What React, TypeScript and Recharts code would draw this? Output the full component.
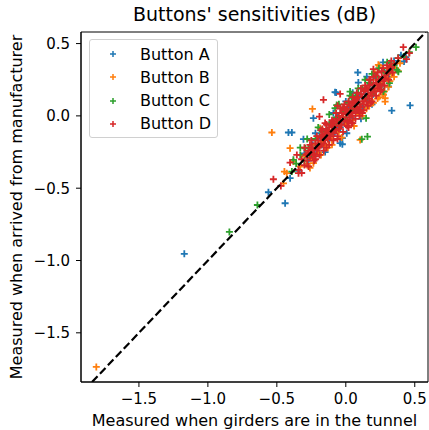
import {
  ScatterChart,
  Scatter,
  XAxis,
  YAxis,
  ReferenceArea,
  Legend,
} from "recharts";

// measured in tunnel (x) vs measured on arrival (y), dB
const buttonA: [number, number][] = [
  [-1.171, -0.954], [-0.561, -0.528], [-0.44, -0.604], [-0.416, -0.115],
  [-0.391, -0.115], [-0.307, -0.161], [-0.235, -0.016], [-0.07, 0.161],
  [0.091, 0.23], [0.087, 0.3], [0.466, 0.072], [0.333, 0.037],
  [0.422, 0.376], [0.435, 0.406], [-0.025, -0.196], [0.007, -0.12],
  [-0.025, -0.154], [-0.041, -0.189], [-0.404, -0.431], [0.309, 0.203],
  [0.152, 0.272], [-0.078, 0.164],
  [-0.3, -0.26], [-0.27, -0.31], [-0.24, -0.2], [-0.21, -0.25],
  [-0.19, -0.14], [-0.17, -0.2], [-0.14, -0.09], [-0.12, -0.16],
  [-0.1, -0.05], [-0.08, -0.12], [-0.06, -0.01], [-0.04, -0.08],
  [-0.02, 0.03], [0.0, -0.05], [0.02, 0.06], [0.04, -0.01],
  [0.06, 0.1], [0.08, 0.03], [0.1, 0.13], [0.12, 0.06],
  [0.14, 0.17], [0.16, 0.1], [0.18, 0.22], [0.2, 0.15],
  [0.22, 0.26], [0.25, 0.2], [0.28, 0.31], [0.31, 0.27],
  [0.35, 0.38], [0.4, 0.42],
  [-0.34, -0.38], [-0.22, -0.12], [-0.09, 0.02], [0.05, 0.16],
  [0.19, 0.08], [0.27, 0.37], [0.33, 0.33], [-0.15, -0.25],
  [0.0, 0.1], [0.11, -0.02],
];

const buttonB: [number, number][] = [
  [-1.809, -1.736], [-0.536, -0.115], [-0.404, -0.223], [-0.452, -0.466],
  [-0.445, -0.385], [-0.242, 0.048], [-0.13, -0.22], [-0.235, -0.327],
  [0.104, -0.166], [0.243, 0.346], [0.236, 0.353], [0.393, 0.364],
  [0.285, 0.122], [0.285, 0.099], [0.273, 0.145], [0.224, 0.249],
  [-0.186, -0.085], [-0.38, -0.316], [-0.428, -0.396], [-0.126, -0.2],
  [-0.33, -0.35], [-0.3, -0.28], [-0.28, -0.33], [-0.25, -0.29],
  [-0.22, -0.2], [-0.2, -0.26], [-0.17, -0.18], [-0.15, -0.21],
  [-0.12, -0.1], [-0.1, -0.16], [-0.07, -0.06], [-0.05, -0.11],
  [-0.02, -0.01], [0.0, -0.06], [0.03, 0.02], [0.05, -0.03],
  [0.08, 0.06], [0.1, 0.01], [0.13, 0.1], [0.15, 0.05],
  [0.18, 0.15], [0.2, 0.09], [0.22, 0.18], [0.24, 0.13],
  [0.26, 0.22], [0.28, 0.17], [0.3, 0.26], [0.33, 0.29],
  [0.36, 0.33], [0.21, 0.3], [0.31, 0.2],
  [0.12, 0.0], [0.17, 0.07], [0.23, 0.12], [0.27, 0.15],
  [0.32, 0.24], [0.35, 0.27], [0.06, -0.07], [-0.03, -0.15],
  [-0.1, -0.2], [-0.18, -0.27], [-0.26, -0.36], [0.38, 0.31], [0.3, 0.33],
];

const buttonC: [number, number][] = [
  [-0.844, -0.802], [-0.641, -0.616], [-0.391, -0.385], [0.157, -0.143],
  [0.116, -0.161], [0.509, 0.475], [0.321, 0.364], [0.381, 0.306],
  [0.316, 0.226], [0.031, 0.168], [0.043, 0.134], [-0.078, 0.053],
  [-0.066, 0.075], [0.176, 0.226], [0.273, 0.168], [0.37, 0.318],
  [-0.295, -0.224], [-0.38, -0.304], [0.147, -0.016],
  [-0.36, -0.33], [-0.33, -0.27], [-0.3, -0.31], [-0.27, -0.22],
  [-0.25, -0.26], [-0.22, -0.16], [-0.2, -0.21], [-0.17, -0.11],
  [-0.15, -0.16], [-0.12, -0.06], [-0.1, -0.11], [-0.07, -0.01],
  [-0.05, -0.06], [-0.02, 0.04], [0.0, -0.01], [0.02, 0.09],
  [0.05, 0.04], [0.07, 0.14], [0.1, 0.08], [0.12, 0.19],
  [0.15, 0.12], [0.17, 0.23], [0.2, 0.17], [0.22, 0.27],
  [0.25, 0.22], [0.28, 0.3], [0.32, 0.31], [0.35, 0.35],
  [0.42, 0.41], [0.46, 0.44],
  [-0.28, -0.16], [-0.2, -0.08], [-0.12, 0.01], [-0.05, 0.08],
  [0.03, 0.14], [0.09, 0.19], [0.14, 0.25], [0.19, 0.29],
  [0.24, 0.33], [0.3, 0.37], [-0.33, -0.22], [0.38, 0.4],
];

const buttonD: [number, number][] = [
  [-0.525, -0.438], [-0.471, -0.484], [-0.404, -0.323], [-0.343, -0.396],
  [-0.355, -0.27], [-0.162, 0.111], [-0.041, 0.152], [-0.191, -0.005],
  [0.417, 0.475], [0.461, 0.434], [0.44, 0.392], [0.2, 0.323],
  [-0.343, -0.373], [-0.32, -0.395], [-0.259, -0.27], [-0.247, -0.235],
  [-0.32, -0.3], [-0.3, -0.34], [-0.29, -0.27], [-0.28, -0.31],
  [-0.27, -0.24], [-0.26, -0.29], [-0.25, -0.22], [-0.24, -0.27],
  [-0.23, -0.26], [-0.22, -0.19], [-0.21, -0.24], [-0.2, -0.17],
  [-0.2, -0.22], [-0.19, -0.21], [-0.18, -0.15], [-0.18, -0.2],
  [-0.17, -0.13], [-0.16, -0.19], [-0.15, -0.12], [-0.15, -0.17],
  [-0.14, -0.1], [-0.13, -0.16], [-0.13, -0.11], [-0.12, -0.08],
  [-0.11, -0.14], [-0.11, -0.06], [-0.1, -0.1], [-0.09, -0.12],
  [-0.09, -0.04], [-0.08, -0.07], [-0.07, -0.1], [-0.07, -0.02],
  [-0.06, -0.05], [-0.05, -0.09], [-0.05, 0.0], [-0.04, -0.03],
  [-0.03, -0.06], [-0.03, 0.02], [-0.02, -0.01], [-0.01, -0.04],
  [-0.01, 0.04], [0.0, 0.01], [0.01, -0.03], [0.01, 0.05],
  [0.02, 0.02], [0.03, -0.01], [0.03, 0.07], [0.04, 0.03],
  [0.05, 0.0], [0.05, 0.09], [0.06, 0.05], [0.07, 0.02],
  [0.07, 0.11], [0.08, 0.06], [0.09, 0.04], [0.09, 0.13],
  [0.1, 0.08], [0.11, 0.06], [0.11, 0.15], [0.12, 0.1],
  [0.13, 0.08], [0.13, 0.17], [0.14, 0.12], [0.15, 0.1],
  [0.15, 0.19], [0.16, 0.14], [0.17, 0.12], [0.17, 0.21],
  [0.18, 0.16], [0.19, 0.14], [0.2, 0.19], [0.21, 0.17],
  [0.22, 0.23], [0.23, 0.19], [0.24, 0.25], [0.25, 0.22],
  [0.26, 0.27], [0.27, 0.24], [0.29, 0.28], [0.31, 0.3],
  [0.33, 0.33], [0.35, 0.36], [0.38, 0.4],
  [-0.06, 0.07], [0.02, -0.08], [0.12, 0.02], [-0.15, -0.05],
  [0.08, 0.16], [-0.22, -0.28], [0.18, 0.25], [0.26, 0.31], [0.05, -0.05],
  [-0.3, -0.22], [-0.27, -0.35], [-0.25, -0.17], [-0.23, -0.31],
  [-0.21, -0.14], [-0.19, -0.27], [-0.17, -0.09], [-0.16, -0.24],
  [-0.14, -0.06], [-0.12, -0.2], [-0.1, -0.03], [-0.09, -0.17],
  [-0.07, 0.02], [-0.06, -0.14], [-0.04, 0.05], [-0.02, -0.11],
  [-0.01, 0.08], [0.01, -0.07], [0.02, 0.1], [0.04, -0.05],
  [0.05, 0.13], [0.07, -0.02], [0.08, 0.12], [0.1, 0.0],
  [0.11, 0.19], [0.13, 0.04], [0.14, 0.21], [0.16, 0.07],
  [0.17, 0.25], [0.19, 0.1], [0.2, 0.27], [0.22, 0.14],
  [0.23, 0.3], [0.25, 0.17], [0.27, 0.33], [0.28, 0.21],
  [0.3, 0.35], [0.31, 0.25], [0.33, 0.38], [0.34, 0.3],
  [-0.28, -0.26], [-0.24, -0.23], [-0.2, -0.2], [-0.16, -0.15],
  [-0.12, -0.13], [-0.08, -0.09], [-0.04, -0.06], [0.0, 0.04],
  [0.04, 0.07], [0.08, 0.09], [0.12, 0.13], [0.16, 0.18],
  [0.2, 0.22], [0.24, 0.21], [0.28, 0.26], [0.32, 0.34],
  [-0.26, -0.2], [-0.22, -0.3], [-0.18, -0.1], [-0.14, -0.22],
  [-0.1, -0.06], [-0.06, -0.16], [-0.02, 0.06], [0.02, -0.04],
  [0.06, 0.1], [0.1, 0.03], [0.14, 0.18], [0.18, 0.09],
  [0.22, 0.28], [0.26, 0.18], [0.3, 0.3],
];

// y = x reference, ends at the axes limits
const identityEnds = [-1.84, 0.58];

const seriesNames = ["Button A", "Button B", "Button C", "Button D"];
const seriesColors = ["#1f77b4", "#ff7f0e", "#2ca02c", "#d62728"];
const seriesData = [buttonA, buttonB, buttonC, buttonD];

const xTicks = [-1.5, -1.0, -0.5, 0.0, 0.5];
const yTicks = [-1.5, -1.0, -0.5, 0.0, 0.5];

const FONT = "'DejaVu Sans', sans-serif";

const fmt = (v: number) => v.toFixed(1).replace("-", "\u2212");

const plus = (color: string, r: number) => (props: any) => {
  const { cx, cy } = props;
  if (cx == null || cy == null) return <g />;
  return (
    <path
      d={`M${cx - r},${cy}H${cx + r}M${cx},${cy - r}V${cy + r}`}
      stroke={color}
      strokeWidth={1.8}
      fill="none"
    />
  );
};

function LegendBox() {
  return (
    <div
      style={{
        width: 127,
        height: 97,
        border: "1px solid #d0d0d0",
        borderRadius: 3,
        background: "rgba(255,255,255,0.8)",
        fontFamily: FONT,
        fontSize: 16,
        color: "#000",
        position: "relative",
      }}
    >
      {seriesNames.map((name, i) => (
        <div
          key={name}
          style={{
            position: "absolute",
            left: 0,
            top: 14 + i * 23.3 - 10,
            height: 20,
            display: "flex",
            alignItems: "center",
          }}
        >
          <svg width={50} height={20}>
            <path
              d="M20,10H26M23,7V13"
              stroke={seriesColors[i]}
              strokeWidth={1.5}
            />
          </svg>
          <span style={{ whiteSpace: "nowrap" }}>{name}</span>
        </div>
      ))}
    </div>
  );
}

export default function App() {
  return (
    <div
      style={{
        position: "absolute",
        left: 0,
        top: 0,
        width: 429,
        height: 430,
        background: "#fff",
      }}
    >
      <div
        style={{
          position: "absolute",
          left: 81,
          width: 347,
          top: 3,
          textAlign: "center",
          fontFamily: FONT,
          fontSize: 19,
          whiteSpace: "nowrap",
        }}
      >
        Buttons' sensitivities (dB)
      </div>

      <ScatterChart
        width={429}
        height={430}
        margin={{ top: 32, right: 1, bottom: 0, left: 0 }}
      >
        <XAxis
          type="number"
          dataKey="x"
          domain={[-1.92, 0.596]}
          allowDataOverflow
          ticks={xTicks}
          tickFormatter={fmt}
          height={48}
          tickSize={5}
          tickMargin={6}
          stroke="#000"
          tick={{ fill: "#000", fontSize: 15, fontFamily: FONT }}
        />
        <YAxis
          type="number"
          dataKey="y"
          domain={[-1.84, 0.58]}
          allowDataOverflow
          ticks={yTicks}
          tickFormatter={fmt}
          width={81}
          tickSize={5}
          tickMargin={6}
          stroke="#000"
          tick={{ fill: "#000", fontSize: 15, fontFamily: FONT }}
        />
        <ReferenceArea
          x1={-1.92}
          x2={0.596}
          y1={-1.84}
          y2={0.58}
          fill="none"
          stroke="#000"
          strokeWidth={1}
          fillOpacity={0}
        />
        {seriesData.map((rows, i) => (
          <Scatter
            key={seriesNames[i]}
            name={seriesNames[i]}
            data={rows.map(([x, y]) => ({ x, y }))}
            fill={seriesColors[i]}
            shape={plus(seriesColors[i], 3.5)}
            isAnimationActive={false}
          />
        ))}
        <Scatter
          name="y = x"
          data={identityEnds.map((v) => ({ x: v, y: v }))}
          line={{ stroke: "#000", strokeWidth: 2.2, strokeDasharray: "8 3.5" }}
          shape={() => <g />}
          legendType="none"
          isAnimationActive={false}
        />
        <Legend
          layout="vertical"
          align="center"
          verticalAlign="middle"
          content={() => <LegendBox />}
          wrapperStyle={{ left: 89, top: 39, width: 129, height: 99 }}
        />
      </ScatterChart>

      <div
        style={{
          position: "absolute",
          left: 81,
          width: 347,
          top: 411,
          textAlign: "center",
          fontFamily: FONT,
          fontSize: 16,
          whiteSpace: "nowrap",
          lineHeight: "19px",
        }}
      >
        Measured when girders are in the tunnel
      </div>
      <div
        style={{
          position: "absolute",
          left: 17 - 175,
          top: 207 - 10,
          width: 350,
          height: 20,
          lineHeight: "20px",
          textAlign: "center",
          transform: "rotate(-90deg)",
          fontFamily: FONT,
          fontSize: 16,
          whiteSpace: "nowrap",
        }}
      >
        Measured when arrived from manufacturer
      </div>
    </div>
  );
}
